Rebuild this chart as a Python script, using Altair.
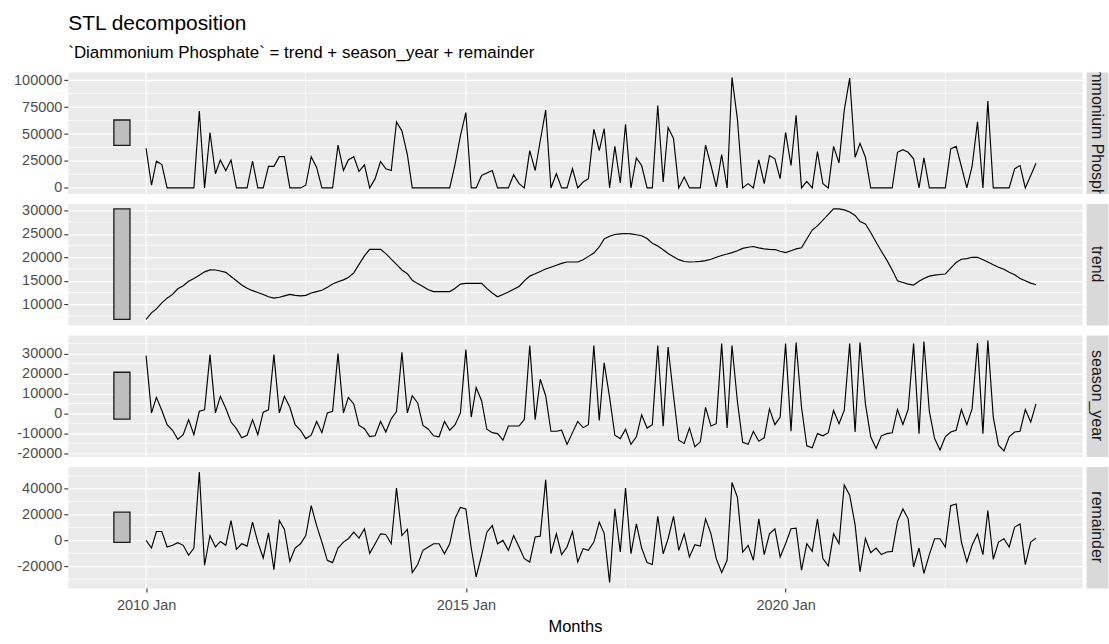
import altair as alt
import pandas as pd

FONT = "Liberation Sans"

# Monthly observations, 2010 Jan .. 2023 Dec
months = pd.date_range("2010-01-01", periods=168, freq="MS").strftime("%Y-%m-%d").tolist()

diammonium_phosphate = [
    36700, 2500, 24800, 21700, 0, 0, 0, 0, 0, 0, 71400, 0,
    51500, 13200, 26000, 16000, 26000, 0, 0, 0, 25000, 0, 0, 20000,
    20000, 29000, 29000, 0, 0, 0, 2500, 29000, 19000, 0, 0, 0,
    39800, 16200, 26000, 29000, 15300, 21400, 0, 8600, 24500, 17800, 16200, 61300,
    53000, 31000, 0, 0, 0, 0, 0, 0, 0, 0, 22400, 48400,
    69900, 0, 0, 11600, 13800, 16200, 0, 0, 0, 12300, 4000, 0,
    34600, 16200, 43800, 72300, 0, 13200, 0, 0, 17800, 0, 5500, 8600,
    54500, 34600, 55000, 0, 38600, 4600, 59100, 0, 27900, 20800, 0, 0,
    76600, 5500, 56100, 46000, 0, 10100, 0, 0, 0, 39800, 20800, 900,
    31000, 0, 102600, 63700, 0, 4000, 0, 26000, 4000, 30000, 27000, 8600,
    51500, 20800, 67400, 0, 6100, 0, 33700, 4000, 0, 38600, 23300, 72000,
    102000, 28500, 41400, 28500, 0, 0, 0, 0, 0, 33100, 35500, 33100,
    27000, 0, 27900, 0, 0, 0, 0, 36200, 38600, 19900, 0, 19900,
    61300, 0, 80600, 0, 0, 0, 0, 17800, 20800, 0, 11600, 23000,
]

trend = [
    6770, 8180, 9020, 10300, 11300, 12100, 13300, 13950, 14900, 15500, 16200, 16900,
    17330, 17300, 17100, 16800, 15920, 15000, 14100, 13400, 12900, 12500, 12100, 11600,
    11300, 11500, 11800, 12100, 11900, 11800, 11900, 12400, 12700, 13000, 13600, 14300,
    14800, 15200, 15700, 16700, 18500, 20300, 21700, 21700, 21700, 20800, 19600, 18500,
    17300, 16500, 15100, 14400, 13800, 13100, 12700, 12700, 12700, 12700, 13400, 14300,
    14450, 14450, 14450, 14450, 13400, 12400, 11600, 12100, 12600, 13200, 13800, 15000,
    16000, 16500, 17000, 17500, 17900, 18300, 18700, 19000, 19000, 19000, 19500, 20200,
    20900, 22200, 23900, 24500, 24850, 25000, 25070, 25000, 24800, 24600, 24000, 23000,
    22400, 21600, 20800, 20100, 19500, 19100, 19000, 19050, 19150, 19300, 19600, 20000,
    20400, 20700, 21000, 21400, 21900, 22150, 22300, 22000, 21800, 21700, 21650, 21300,
    21000, 21400, 21800, 22050, 23900, 25800, 26700, 27900, 29150, 30300, 30300, 30100,
    29650, 28900, 27600, 27100, 25300, 23200, 21300, 19400, 17300, 15000, 14650, 14300,
    14100, 14900, 15500, 16000, 16200, 16350, 16450, 17700, 18900, 19580, 19720, 20000,
    20000, 19500, 19000, 18400, 17900, 17450, 16800, 16300, 15500, 15000, 14500, 14150,
]

season_year = [
    29000, 300, 8100, 1500, -5600, -8400, -13000, -10600, -3100, -10600, 1100, 1800,
    29500, 300, 8600, 2600, -4300, -7600, -12200, -10900, -3100, -10600, 650, 1800,
    29500, 300, 8600, 3100, -5600, -8400, -12600, -10900, -4000, -9600, 300, 1100,
    30000, 300, 8100, 4800, -6000, -7600, -11600, -11200, -4000, -9300, -2650, 1000,
    30700, 300, 8900, 5300, -6000, -7900, -11200, -11700, -4000, -8400, -5600, 300,
    32000, -1800, 13000, 6400, -7900, -9600, -10100, -13400, -6300, -6300, -6300, -3000,
    34100, -3100, 17150, 8900, -8900, -8900, -8400, -15500, -9600, -4000, -7100, -5600,
    34100, -3500, 25400, 8100, -10900, -12600, -7900, -15500, -11700, -700, -7300, -5600,
    34100, -6400, 33300, 8900, -13400, -15000, -7300, -16700, -14200, 3100, -6300, -5100,
    35000, -7300, 34100, 5900, -14500, -15500, -8900, -13900, -12200, 2300, -5600, -1800,
    35000, -8900, 35600, 3100, -16200, -17200, -10100, -11200, -9600, 1500, -5100, 1500,
    35000, -9300, 35600, 4800, -11700, -17500, -11200, -10100, -9700, 2000, -5500, 2000,
    35000, -10100, 36100, 1000, -12600, -18300, -11700, -9300, -8400, 2000, -5600, 2300,
    35300, -10100, 36600, -1800, -15900, -18800, -11700, -9300, -8900, 2000, -4300, 4800,
]

remainder = [
    0, -5900, 6900, 6900, -5100, -3800, -1800, -3800, -11500, -5900, 53000, -19200,
    3800, -5100, -800, -3800, 15400, -6900, -2600, -4400, 14100, -1300, -13600, 5900,
    -22600, 15400, 8500, -16200, -5900, -2600, 3800, 26900, 11500, -1300, -15400, -17200,
    -5900, -1300, 1300, 6400, 1800, 9000, -10000, -2600, 5100, 4600, -2600, 40500,
    3800, 8500, -24900, -18700, -7700, -5100, -2600, -2600, -10300, -2600, 17200, 25600,
    24400, -5900, -28200, -11500, 6400, 11500, -2600, 0, -7700, 3800, -5100, -14100,
    -16700, 2600, 3300, 46900, -10300, 5100, -11000, -5100, 6900, -16700, -6400, -7700,
    -1300, 14100, 5500, -32600, 24400, -9000, 40500, -10300, 12800, -5900, -17200, -18700,
    18700, -10300, 1300, 18700, -7700, 5100, -12800, -3300, -4400, 16700, 5100, -14100,
    -24900, -15400, 44900, 33300, -9000, -3800, -15400, 16700, -11000, 5100, 9000, -12800,
    -2600, 9000, 9500, -23100, -2600, -8500, 16700, -14100, -19700, 5100, -2500, 43000,
    35000, 12000, -24300, 1500, -9500, -5900, -11000, -9000, -8500, 14600, 24400, 16700,
    -20500, -5900, -25600, -11000, 1300, 1300, -5100, 26900, 28200, -1300, -16700, -3800,
    5100, -11000, 23100, -14600, -1300, 1300, -5100, 10300, 12800, -18700, -1300, 1800,
]

components = ["Diammonium Phosphate", "trend", "season_year", "remainder"]
series = [diammonium_phosphate, trend, season_year, remainder]
y_breaks = [
    [0, 25000, 50000, 75000, 100000],
    [10000, 15000, 20000, 25000, 30000],
    [-20000, -10000, 0, 10000, 20000, 30000],
    [-20000, 0, 20000, 40000],
]
x_breaks = ["2010-01-01", "2015-01-01", "2020-01-01"]
x_minor_breaks = ["2012-07-01", "2017-07-01", "2022-07-01"]

# Scale bars sit just before the first observation
bar_start, bar_end = "2009-07-01", "2009-10-01"

W, H = 1018, 122
GAP = 10
BG = "#EBEBEB"
STRIP = "#D9D9D9"


def ms(d):
    return int(pd.Timestamp(d).value // 10**6)


x_span = ms(months[-1]) - ms(bar_start)
x_domain = [ms(bar_start) - 0.05 * x_span, ms(months[-1]) + 0.05 * x_span]
x_scale = alt.Scale(type="utc", domain=x_domain)

# Every scale bar has the height of the narrowest component range
bar_height = min(max(s) - min(s) for s in series)


def panel(idx):
    vals = series[idx]
    lo, hi = min(vals), max(vals)
    rng = hi - lo
    y_dom = [lo - 0.05 * rng, hi + 0.05 * rng]
    y_scale = alt.Scale(domain=y_dom, nice=False, zero=False)
    majors = y_breaks[idx]
    step = majors[1] - majors[0]
    minors = [m + step / 2 for m in [majors[0] - step] + majors]
    minors = [m for m in minors if y_dom[0] <= m <= y_dom[1]]

    y_axis = alt.Axis(
        values=majors, labelExpr="'' + datum.value", grid=True,
        gridColor="#FFFFFF", gridWidth=1.2, domain=False,
        tickColor="#333333", tickSize=4, tickWidth=1.1,
        labelColor="#4D4D4D", labelFontSize=14.5, labelFont=FONT,
        labelPadding=2, labelFlush=False, labelOverlap=False,
        minExtent=67, maxExtent=67, title=None,
    )
    bottom = idx == len(series) - 1
    if bottom:
        x_axis = alt.Axis(
            values=[ms(d) for d in x_breaks],
            labelExpr="utcFormat(datum.value, '%Y %b')",
            grid=False, domain=False, tickColor="#333333", tickSize=4,
            tickWidth=1.1, labelColor="#4D4D4D", labelFontSize=14.5,
            labelFont=FONT, labelPadding=7, labelFlush=False,
            labelOverlap=False, title="Months", titleFont=FONT,
            titleFontSize=16.5, titleFontWeight="normal",
            titleColor="#000000", titlePadding=6,
        )
    else:
        x_axis = None

    X = alt.X("month:T", scale=x_scale, axis=x_axis)
    Y = alt.Y("value:Q", scale=y_scale, axis=y_axis)

    vmaj = alt.Chart(pd.DataFrame({"month": x_breaks})).mark_rule(
        color="#FFFFFF", strokeWidth=1.2).encode(x=X)
    vmin = alt.Chart(pd.DataFrame({"month": x_minor_breaks})).mark_rule(
        color="#FFFFFF", strokeWidth=0.6).encode(x=X)
    hmin = alt.Chart(pd.DataFrame({"value": minors})).mark_rule(
        color="#FFFFFF", strokeWidth=0.6).encode(y=Y)

    mid = (lo + hi) / 2
    bar_df = pd.DataFrame({
        "month": [bar_start], "month_end": [bar_end],
        "value": [mid - bar_height / 2], "value_end": [mid + bar_height / 2],
    })
    bar = alt.Chart(bar_df).mark_rect(
        fill="#BEBEBE", stroke="#1A1A1A", strokeWidth=1.3
    ).encode(x=X, x2="month_end:T", y=Y, y2="value_end:Q")

    line_df = pd.DataFrame({"month": months, "value": vals})
    line = alt.Chart(line_df).mark_line(
        color="#000000", strokeWidth=1.15).encode(x=X, y=Y)

    return alt.layer(vmaj, vmin, hmin, bar, line).properties(
        width=W, height=H, view=alt.ViewBackground(fill=BG, stroke="transparent"))


def strip(idx):
    return alt.Chart(pd.DataFrame({"label": [components[idx]]})).mark_text(
        angle=90, fontSize=16, font=FONT, color="#1A1A1A",
        align="center", baseline="middle", clip=True,
    ).encode(text="label:N", x=alt.value(11), y=alt.value(H / 2)).properties(
        width=22, height=H, view=alt.ViewBackground(fill=STRIP, stroke="transparent"))


panels = alt.vconcat(*[panel(i) for i in range(len(series))], spacing=GAP, bounds="flush")
strips = alt.vconcat(*[strip(i) for i in range(len(series))], spacing=GAP, bounds="flush")

chart = alt.hconcat(panels, strips, spacing=2).properties(
    title=alt.TitleParams(
        text="STL decomposition",
        subtitle="`Diammonium Phosphate` = trend + season_year + remainder",
        anchor="start", dx=68, font=FONT, fontSize=21, fontWeight="normal",
        color="#000000", subtitleFont=FONT, subtitleFontSize=17,
        subtitleColor="#000000", subtitlePadding=11, offset=10,
    ),
    padding={"left": 0, "top": 11, "right": 0, "bottom": 0},
    background="#FFFFFF",
).configure_view(stroke="transparent")

chart.save("out.html", embed_options={"renderer": "svg", "actions": False})
